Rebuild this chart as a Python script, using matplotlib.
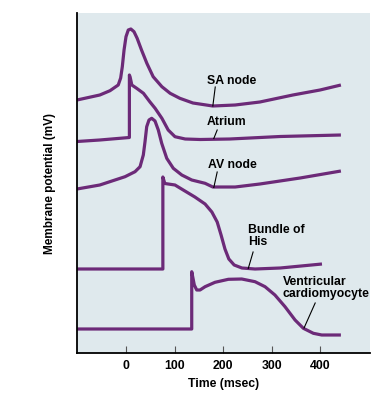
import numpy as np
import matplotlib.pyplot as plt

plt.rcParams['font.family'] = ['Liberation Sans', 'DejaVu Sans']

# time (msec) / potential (arbitrary, plotted top-down)
sa_t = [-101, -54, -33, -16, -11, -7.6, -4, 0, 4.7, 10, 16.5, 23, 32, 43, 56, 74, 91, 111, 138, 179, 225, 276, 344, 400, 443]
sa_v = [100, 95, 90.7, 85, 78, 66.7, 50, 36.7, 30, 29, 31.7, 38.3, 50, 63.3, 76.7, 86.7, 93.3, 98.3, 103, 106, 105, 102, 95, 90, 85]

atr_t = [-101, -54, 7, 7, 8.5, 12, 22, 36, 49, 60, 74, 87, 101, 122, 153, 214, 318, 443]
atr_v = [141.5, 140, 137.5, 75, 77, 85, 88.3, 93.3, 101.7, 108.3, 118.3, 130, 136.7, 139, 139.5, 139, 136.5, 135]

av_t = [-101, -54, -2, 18.6, 29, 35.7, 39.2, 42.7, 47.4, 53, 59.8, 66.6, 73.6, 84, 97.5, 115, 135.5, 163, 179, 225, 276, 359, 443]
av_v = [189, 185, 176.7, 171.7, 166.7, 155, 141.7, 126.7, 120, 118.3, 121, 130, 143.3, 158.3, 168.3, 175, 180, 183.3, 187, 187, 184, 178, 171]

his_t = [-101, 76, 76, 80, 101, 118, 142, 163, 177, 188, 196, 204, 212, 223, 239, 266, 318, 404]
his_v = [269, 269, 177, 183.5, 185, 190, 197, 204, 212, 222, 235, 249, 259, 265, 268, 269, 268, 264]

ven_t = [-101, 135.5, 135.5, 140.8, 145.8, 152.6, 163, 183.5, 211, 238.6, 266, 286.6, 307, 327.8, 348.5, 365.6, 386.2, 403.5, 443]
ven_v = [329, 329, 271.7, 285, 290, 290, 286.7, 282.3, 279.3, 279, 281.7, 286.7, 295, 306.7, 320, 328.3, 333.3, 335, 335]

traces = [(sa_t, sa_v), (atr_t, atr_v), (av_t, av_v), (his_t, his_v), (ven_t, ven_v)]
labels = ['SA node', 'Atrium', 'AV node', 'Bundle of\nHis', 'Ventricular\ncardiomyocyte']
xticks = [0, 100, 200, 300, 400]

# label text anchor (left, centre) and leader line (from, to)
label_pos = [(168, 81), (166, 122), (170, 165), (251, 236), (323, 288)]
leaders = [((184, 87), (179, 106)), ((188, 130), (181, 138.5)),
           ((188, 172), (181, 187.5)), ((262, 252), (252, 268.5)),
           ((390, 303), (367, 328))]

purple = '#6c2a78'

fig = plt.figure(figsize=(3.84, 3.94), dpi=100)
ax = fig.add_axes([77/384, 41/394, 293/384, 340/394])
ax.set_facecolor('#dfe9ed')

for t, v in traces:
    ax.plot(t, v, color=purple, linewidth=2.3, solid_joinstyle='round', solid_capstyle='butt')

for lab, (x, y), (p0, p1) in zip(labels, label_pos, leaders):
    ax.text(x, y, lab, fontsize=8.8, fontweight='bold', ha='left', va='center',
            linespacing=1.0)
    ax.plot([p0[0], p1[0]], [p0[1], p1[1]], color='black', linewidth=0.8)

ax.set_xlim(-101, 503)
ax.set_ylim(353, 13)

ax.spines['right'].set_visible(False)
ax.spines['top'].set_visible(False)
ax.spines['left'].set_linewidth(1.3)
ax.spines['bottom'].set_linewidth(1.3)

ax.set_xticks(xticks)
ax.set_xticklabels([str(x) for x in xticks], fontsize=8.8, fontweight='bold')
ax.tick_params(axis='x', direction='in', length=5, width=0.8, color='#555555', pad=5)
ax.set_yticks([])

ax.set_xlabel('Time (msec)', fontsize=8.8, fontweight='bold', labelpad=4)
ax.set_ylabel('Membrane potential (mV)', fontsize=8.5, fontweight='bold', labelpad=15)

fig.savefig('out.png', dpi=100)
